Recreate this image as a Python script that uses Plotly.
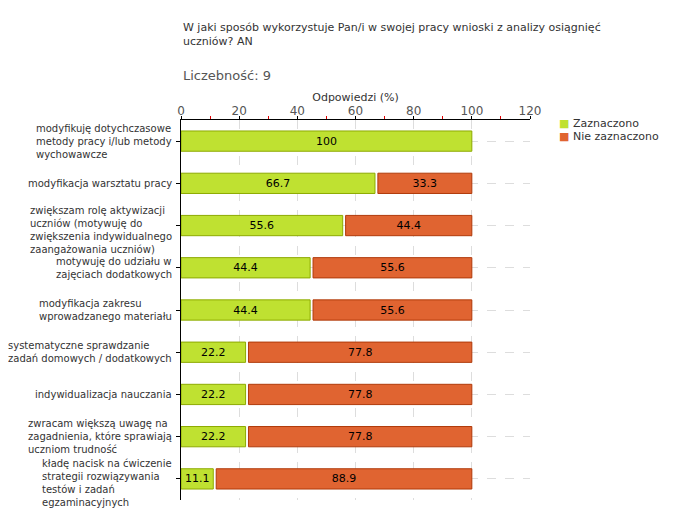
import plotly.graph_objects as go

categories = [
    "modyfikuję dotychczasowe<br>metody pracy i/lub metody<br>wychowawcze",
    "modyfikacja warsztatu pracy",
    "zwiększam rolę aktywizacji<br>uczniów (motywuję do<br>zwiększenia indywidualnego<br>zaangażowania uczniów)",
    "motywuję do udziału w<br>zajęciach dodatkowych",
    "modyfikacja zakresu<br>wprowadzanego materiału",
    "systematyczne sprawdzanie<br>zadań domowych / dodatkowych",
    "indywidualizacja nauczania",
    "zwracam większą uwagę na<br>zagadnienia, które sprawiają<br>uczniom trudność",
    "kładę nacisk na ćwiczenie<br>strategii rozwiązywania<br>testów i zadań<br>egzaminacyjnych",
]
zaznaczono = [100, 66.7, 55.6, 44.4, 44.4, 22.2, 22.2, 22.2, 11.1]
nie_zaznaczono = [0, 33.3, 44.4, 55.6, 55.6, 77.8, 77.8, 77.8, 88.9]
series_names = ["Zaznaczono", "Nie zaznaczono"]
series_colors = ["#BFE131", "#E06431"]
series_borders = ["#8DAA00", "#B03A0A"]
title_text = "W jaki sposób wykorzystuje Pan/i w swojej pracy wnioski z analizy osiągnięć<br>uczniów? AN"
count_text = "Liczebność: 9"
axis_title = "Odpowiedzi (%)"

GAP = 1.0
font_fam = "DejaVu Sans"
n = len(categories)

fig = go.Figure()
fig.add_trace(go.Bar(
    y=categories, x=zaznaczono, orientation="h", name=series_names[0],
    marker=dict(color=series_colors[0], line=dict(color=series_borders[0], width=1)),
    text=[f"{v:g}" for v in zaznaczono], textposition="inside",
    insidetextanchor="middle", textfont=dict(color="black", size=11, family=font_fam),
    width=0.48, showlegend=False,
))
red_idx = [i for i, v in enumerate(nie_zaznaczono) if v > 0]
fig.add_trace(go.Bar(
    y=[categories[i] for i in red_idx],
    x=[nie_zaznaczono[i] - GAP for i in red_idx],
    base=[zaznaczono[i] + GAP for i in red_idx],
    orientation="h", name=series_names[1],
    marker=dict(color=series_colors[1], line=dict(color=series_borders[1], width=1)),
    text=[f"{nie_zaznaczono[i]:g}" for i in red_idx], textposition="inside",
    insidetextanchor="middle", textfont=dict(color="black", size=11, family=font_fam),
    width=0.48, showlegend=False,
))

annotations = [
    dict(text=title_text, xref="paper", yref="paper", x=0, y=1, xanchor="left", yanchor="bottom",
         yshift=70, showarrow=False, align="left",
         font=dict(size=11, color="#333333", family=font_fam)),
    dict(text=count_text, xref="paper", yref="paper", x=0, y=1, xanchor="left", yanchor="bottom",
         yshift=35, showarrow=False, align="left",
         font=dict(size=13, color="#555555", family=font_fam)),
]
# category labels: left-aligned blocks, right-anchored at the axis
for c in categories:
    n_lines = c.count("<br>") + 1
    annotations.append(dict(text=c, xref="paper", yref="y", x=0, y=c, xanchor="right",
                            yanchor="middle", xshift=-7, yshift=-4 if n_lines >= 4 else 0,
                            showarrow=False, align="left",
                            font=dict(size=10, color="#333333", family=font_fam)))
# legend
for k, (name, col) in enumerate(zip(series_names, series_colors)):
    annotations.append(dict(
        text=f'<span style="color:{col}">■</span> {name}',
        xref="paper", yref="paper", x=1, y=1, xshift=376 - 349, yshift=-3 - 13 * k,
        xanchor="left", yanchor="middle", showarrow=False, align="left",
        font=dict(size=11, color="#333333", family=font_fam)))

fig.update_layout(
    width=680, height=520,
    margin=dict(l=173, r=158, t=112, b=28),
    paper_bgcolor="white", plot_bgcolor="white",
    barmode="overlay",
    font=dict(family=font_fam, size=11, color="#333333"),
    showlegend=False,
    xaxis=dict(
        side="top", range=[0, 120], dtick=20, tick0=0,
        showline=True, linecolor="black", linewidth=1,
        ticks="outside", ticklen=3, tickcolor="black",
        minor=dict(dtick=20, tick0=10, ticks="outside", ticklen=3, tickcolor="#E00000", showgrid=False),
        showgrid=True, gridcolor="#DDDDDD", griddash="dash", gridwidth=1,
        zeroline=False, automargin=False,
        tickfont=dict(size=12, color="#555555"),
        ticklabelstandoff=-4,
        title=dict(text=axis_title, font=dict(size=11, color="#333333"), standoff=0),
    ),
    yaxis=dict(
        range=[n - 0.5, -0.5], autorange=False, automargin=False, showticklabels=False,
        showline=True, linecolor="black", linewidth=1,
        ticks="outside", ticklen=4, tickcolor="black",
        showgrid=True, gridcolor="#DDDDDD", griddash="dash",
    ),
    annotations=annotations,
)
fig.update_yaxes(categoryorder="array", categoryarray=categories)
fig.write_html("out.html")
